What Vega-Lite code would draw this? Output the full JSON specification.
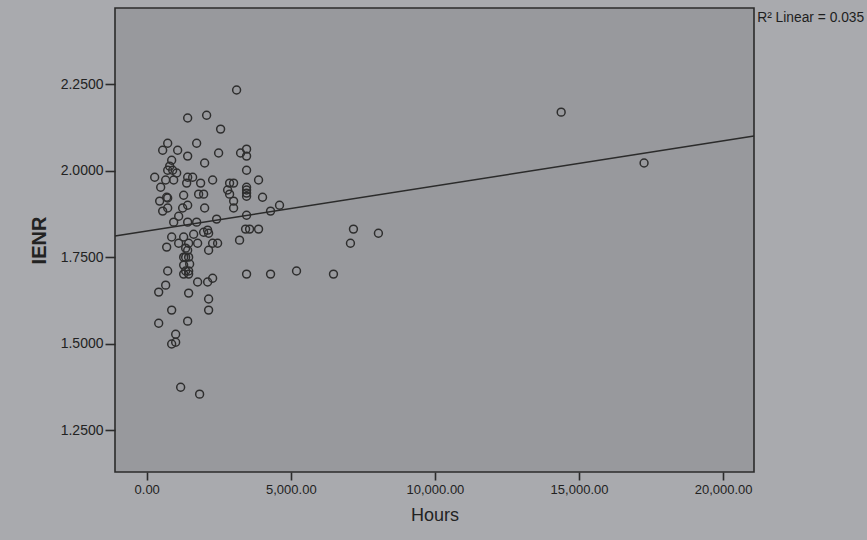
{
  "$schema": "https://vega.github.io/schema/vega-lite/v6.json",
  "autosize": "none",
  "width": 639,
  "height": 464,
  "padding": {"left": 115, "top": 8, "right": 113, "bottom": 68},
  "background": "#a9aaae",
  "config": {
    "view": {"stroke": "#2b2b2b", "strokeWidth": 1.6, "fill": "#98999d"},
    "font": "Liberation Sans"
  },
  "datasets": {
    "pts": [
      {"Hours": 3119, "IENR": 2.233}, {"Hours": 1421, "IENR": 2.152}, {"Hours": 2079, "IENR": 2.160},
      {"Hours": 2564, "IENR": 2.120}, {"Hours": 728, "IENR": 2.079}, {"Hours": 1733, "IENR": 2.079},
      {"Hours": 554, "IENR": 2.059}, {"Hours": 1074, "IENR": 2.059}, {"Hours": 3465, "IENR": 2.062},
      {"Hours": 3257, "IENR": 2.051}, {"Hours": 3465, "IENR": 2.042}, {"Hours": 2495, "IENR": 2.051},
      {"Hours": 1421, "IENR": 2.042}, {"Hours": 866, "IENR": 2.030}, {"Hours": 2010, "IENR": 2.022},
      {"Hours": 797, "IENR": 2.013}, {"Hours": 728, "IENR": 2.001}, {"Hours": 901, "IENR": 2.001},
      {"Hours": 3465, "IENR": 2.001}, {"Hours": 277, "IENR": 1.981}, {"Hours": 1040, "IENR": 1.993},
      {"Hours": 1421, "IENR": 1.981}, {"Hours": 1594, "IENR": 1.981}, {"Hours": 658, "IENR": 1.973},
      {"Hours": 936, "IENR": 1.973}, {"Hours": 1386, "IENR": 1.964}, {"Hours": 1871, "IENR": 1.964},
      {"Hours": 2287, "IENR": 1.973}, {"Hours": 3881, "IENR": 1.973}, {"Hours": 2876, "IENR": 1.964},
      {"Hours": 3015, "IENR": 1.964}, {"Hours": 485, "IENR": 1.952}, {"Hours": 3465, "IENR": 1.952},
      {"Hours": 3465, "IENR": 1.944}, {"Hours": 3465, "IENR": 1.935}, {"Hours": 2807, "IENR": 1.944},
      {"Hours": 693, "IENR": 1.923}, {"Hours": 1282, "IENR": 1.929}, {"Hours": 1802, "IENR": 1.932},
      {"Hours": 1975, "IENR": 1.932}, {"Hours": 2876, "IENR": 1.932}, {"Hours": 4019, "IENR": 1.923},
      {"Hours": 3465, "IENR": 1.926}, {"Hours": 450, "IENR": 1.912}, {"Hours": 728, "IENR": 1.921},
      {"Hours": 3015, "IENR": 1.912}, {"Hours": 554, "IENR": 1.883}, {"Hours": 728, "IENR": 1.892},
      {"Hours": 1247, "IENR": 1.892}, {"Hours": 1421, "IENR": 1.900}, {"Hours": 2010, "IENR": 1.892},
      {"Hours": 3015, "IENR": 1.892}, {"Hours": 4608, "IENR": 1.900}, {"Hours": 1109, "IENR": 1.868},
      {"Hours": 4297, "IENR": 1.883}, {"Hours": 3465, "IENR": 1.871}, {"Hours": 936, "IENR": 1.851},
      {"Hours": 1421, "IENR": 1.851}, {"Hours": 1733, "IENR": 1.851}, {"Hours": 2426, "IENR": 1.860},
      {"Hours": 866, "IENR": 1.808}, {"Hours": 1282, "IENR": 1.808}, {"Hours": 1629, "IENR": 1.816},
      {"Hours": 1975, "IENR": 1.822}, {"Hours": 2114, "IENR": 1.828}, {"Hours": 2148, "IENR": 1.819},
      {"Hours": 3430, "IENR": 1.831}, {"Hours": 3569, "IENR": 1.831}, {"Hours": 3881, "IENR": 1.831},
      {"Hours": 7173, "IENR": 1.831}, {"Hours": 8039, "IENR": 1.819}, {"Hours": 1109, "IENR": 1.790},
      {"Hours": 1455, "IENR": 1.790}, {"Hours": 1767, "IENR": 1.790}, {"Hours": 2287, "IENR": 1.790},
      {"Hours": 2460, "IENR": 1.790}, {"Hours": 3222, "IENR": 1.799}, {"Hours": 7069, "IENR": 1.790},
      {"Hours": 693, "IENR": 1.779}, {"Hours": 1351, "IENR": 1.776}, {"Hours": 1421, "IENR": 1.770},
      {"Hours": 2148, "IENR": 1.770}, {"Hours": 1282, "IENR": 1.750}, {"Hours": 1351, "IENR": 1.750},
      {"Hours": 1455, "IENR": 1.750}, {"Hours": 1282, "IENR": 1.727}, {"Hours": 1490, "IENR": 1.730},
      {"Hours": 728, "IENR": 1.710}, {"Hours": 1351, "IENR": 1.710}, {"Hours": 1455, "IENR": 1.710},
      {"Hours": 1282, "IENR": 1.701}, {"Hours": 1455, "IENR": 1.701}, {"Hours": 3465, "IENR": 1.701},
      {"Hours": 4297, "IENR": 1.701}, {"Hours": 5198, "IENR": 1.710}, {"Hours": 6480, "IENR": 1.701},
      {"Hours": 2287, "IENR": 1.689}, {"Hours": 1767, "IENR": 1.678}, {"Hours": 2114, "IENR": 1.678},
      {"Hours": 658, "IENR": 1.669}, {"Hours": 416, "IENR": 1.649}, {"Hours": 1455, "IENR": 1.646},
      {"Hours": 2148, "IENR": 1.629}, {"Hours": 866, "IENR": 1.597}, {"Hours": 2148, "IENR": 1.597},
      {"Hours": 416, "IENR": 1.559}, {"Hours": 1421, "IENR": 1.565}, {"Hours": 1005, "IENR": 1.527},
      {"Hours": 1005, "IENR": 1.504}, {"Hours": 866, "IENR": 1.499}, {"Hours": 1178, "IENR": 1.374},
      {"Hours": 1836, "IENR": 1.354}, {"Hours": 14380, "IENR": 2.169}, {"Hours": 17256, "IENR": 2.022}
    ],
    "fit": [
      {"Hours": -1100, "IENR": 1.811},
      {"Hours": 21070, "IENR": 2.100}
    ],
    "note": [
      {"Hours": 21180, "IENR": 2.44, "label": "R² Linear = 0.035"}
    ]
  },
  "layer": [
    {
      "data": {"name": "pts"},
      "mark": {"type": "point", "shape": "circle", "filled": false, "size": 62, "stroke": "#2e2e2e", "strokeWidth": 1.5, "opacity": 1},
      "encoding": {
        "x": {
          "field": "Hours", "type": "quantitative",
          "scale": {"domain": [-1100, 21070], "nice": false, "zero": false},
          "axis": {
            "values": [0, 5000, 10000, 15000, 20000], "format": ",.2f",
            "title": "Hours", "titleFontSize": 18, "titleFontWeight": "normal", "titleColor": "#222",
            "titlePadding": 10, "titleFont": "Liberation Sans Narrow, Liberation Sans",
            "labelFont": "Liberation Sans Narrow, Liberation Sans", "labelFontSize": 13, "labelColor": "#222",
            "labelPadding": 3, "tickSize": 8, "tickColor": "#2b2b2b", "tickWidth": 1.6,
            "domain": false, "grid": false
          }
        },
        "y": {
          "field": "IENR", "type": "quantitative",
          "scale": {"domain": [1.129, 2.47], "nice": false, "zero": false},
          "axis": {
            "values": [1.25, 1.5, 1.75, 2.0, 2.25], "format": ".4f",
            "title": "IENR", "titleFontSize": 20, "titleFontWeight": "bold", "titleColor": "#222",
            "titlePadding": 11,
            "labelFontSize": 14, "labelColor": "#222", "labelPadding": 2,
            "tickSize": 10, "tickColor": "#2b2b2b", "tickWidth": 1.6,
            "domain": false, "grid": false
          }
        }
      }
    },
    {
      "data": {"name": "fit"},
      "mark": {"type": "line", "stroke": "#2b2b2b", "strokeWidth": 1.5},
      "encoding": {
        "x": {"field": "Hours", "type": "quantitative"},
        "y": {"field": "IENR", "type": "quantitative"}
      }
    },
    {
      "data": {"name": "note"},
      "mark": {"type": "text", "align": "left", "baseline": "middle", "fontSize": 13.8, "color": "#1e1e1e"},
      "encoding": {
        "x": {"field": "Hours", "type": "quantitative"},
        "y": {"field": "IENR", "type": "quantitative"},
        "text": {"field": "label"}
      }
    }
  ]
}
